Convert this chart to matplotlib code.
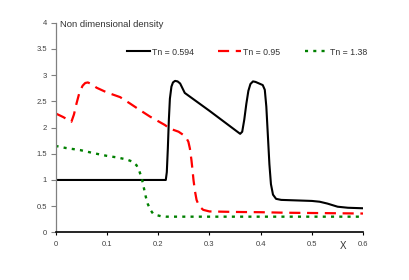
import matplotlib
matplotlib.use('Agg')
import matplotlib.pyplot as plt

plt.rcParams['font.family'] = ['Liberation Sans', 'DejaVu Sans']

# Tn = 0.594 (black solid)
x1 = [0.0, 0.1, 0.2, 0.215, 0.217, 0.219, 0.221, 0.223, 0.226, 0.229, 0.233, 0.238,
      0.243, 0.247, 0.252, 0.30, 0.36, 0.364, 0.368, 0.372, 0.376, 0.380, 0.385,
      0.390, 0.397, 0.404, 0.408, 0.411, 0.414, 0.417, 0.420, 0.424, 0.430, 0.440,
      0.47, 0.50, 0.515, 0.53, 0.55, 0.57, 0.60]
y1 = [1.0, 1.0, 1.0, 1.0, 1.15, 1.6, 2.15, 2.55, 2.78, 2.86, 2.89, 2.88,
      2.84, 2.76, 2.66, 2.32, 1.88, 1.92, 2.15, 2.45, 2.7, 2.83, 2.88,
      2.87, 2.84, 2.81, 2.72, 2.4, 1.85, 1.3, 0.92, 0.72, 0.64, 0.62,
      0.61, 0.60, 0.585, 0.55, 0.49, 0.47, 0.46]

# Tn = 0.95 (red dashed)
x2 = [0.0, 0.015, 0.031, 0.036, 0.041, 0.047, 0.053, 0.058, 0.063, 0.070, 0.080,
      0.10, 0.126, 0.145, 0.165, 0.184, 0.213, 0.223, 0.240, 0.249, 0.254, 0.259,
      0.262, 0.265, 0.267, 0.269, 0.272, 0.275, 0.280, 0.288, 0.30, 0.35, 0.40,
      0.45, 0.50, 0.55, 0.60]
y2 = [2.27, 2.2, 2.11, 2.25, 2.46, 2.68, 2.8, 2.85, 2.86, 2.83, 2.76,
      2.67, 2.58, 2.46, 2.33, 2.21, 2.05, 1.98, 1.92, 1.86, 1.82, 1.73,
      1.6, 1.38, 1.2, 1.0, 0.78, 0.62, 0.5, 0.43, 0.40, 0.39, 0.385,
      0.375, 0.37, 0.365, 0.36]

# Tn = 1.38 (green dotted)
x3 = [0.0, 0.02, 0.048, 0.075, 0.10, 0.12, 0.139, 0.150, 0.158, 0.163, 0.168,
      0.172, 0.176, 0.180, 0.185, 0.190, 0.197, 0.205, 0.215, 0.30, 0.40, 0.50, 0.60]
y3 = [1.65, 1.61, 1.57, 1.51, 1.46, 1.43, 1.39, 1.35, 1.28, 1.18, 1.04,
      0.86, 0.68, 0.54, 0.43, 0.36, 0.33, 0.31, 0.30, 0.30, 0.30, 0.30, 0.30]

labels = ['Tn = 0.594', 'Tn = 0.95', 'Tn = 1.38']
xticks = [0, 0.1, 0.2, 0.3, 0.4, 0.5, 0.6]
xticklabels = ['0', '0.1', '0.2', '0.3', '0.4', '0.5', '0.6']
yticks = [0, 0.5, 1, 1.5, 2, 2.5, 3, 3.5, 4]
yticklabels = ['0', '0.5', '1', '1.5', '2', '2.5', '3', '3.5', '4']

fig = plt.figure(figsize=(4.09, 2.8), dpi=100)
ax = fig.add_axes([0.1357, 0.170, 0.7525, 0.749])

ax.plot(x1, y1, color='black', lw=1.5, label=labels[0], solid_joinstyle='round')
ax.plot(x2, y2, color='#ff0000', lw=1.6, linestyle=(0, (5, 3)), label=labels[1])
ax.plot(x3, y3, color='#008000', lw=1.7, linestyle=(0, (1.3, 2.2)), label=labels[2])

ax.set_xlim(0, 0.6)
ax.set_ylim(0, 4)
ax.set_xticks(xticks)
ax.set_xticklabels(xticklabels)
ax.set_yticks(yticks)
ax.set_yticklabels(yticklabels)

for s in ['top', 'right']:
    ax.spines[s].set_visible(False)
ax.spines['left'].set_color('#808080')
ax.spines['left'].set_linewidth(0.9)
ax.spines['bottom'].set_color('black')
ax.spines['bottom'].set_linewidth(1.2)

ax.tick_params(axis='y', direction='out', length=3.5, width=0.8, color='#808080',
               labelsize=5.5, labelcolor='#404040', pad=2.5)
ax.tick_params(axis='x', direction='out', length=2.5, width=0.8, color='black',
               labelsize=5.5, labelcolor='#404040', pad=4)

ax.text(0.015, 0.99, 'Non dimensional density', transform=ax.transAxes,
        fontsize=6.8, color='#333333', va='center', ha='left')
ax.text(0.934, -0.065, 'X', transform=ax.transAxes, fontsize=7,
        color='#333333', va='center', ha='center')

leg = ax.legend(loc='center left', bbox_to_anchor=(0.232, 0.86), ncol=3,
                frameon=False, fontsize=6.3, handlelength=2.6, handletextpad=0.25,
                columnspacing=2.8, borderpad=0, borderaxespad=0)
for t in leg.get_texts():
    t.set_color('#333333')

fig.savefig('out.png', dpi=100)
